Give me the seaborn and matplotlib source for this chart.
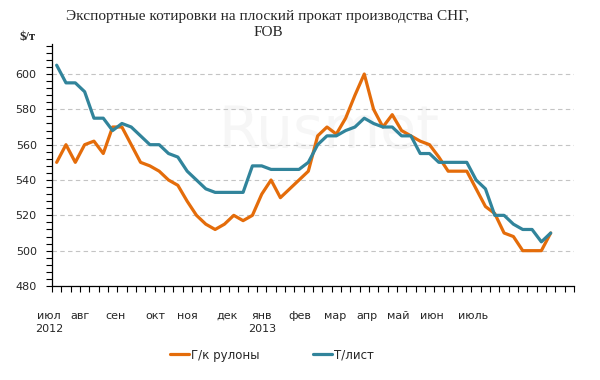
import matplotlib
matplotlib.use("Agg")
import matplotlib.pyplot as plt
from matplotlib.ticker import MultipleLocator, FixedLocator
from matplotlib.lines import Line2D
import pandas as pd
import seaborn as sns

# данные (недельные котировки, $/т)
title = "Экспортные котировки на плоский прокат производства СНГ,\nFOB"
unit_label = "$/т"
series_names = ["Г/к рулоны", "Т/лист"]

hot_rolled = [550, 560, 550, 560, 562, 555, 570, 570, 560, 550,
              548, 545, 540, 537, 528, 520, 515, 512, 515, 520,
              517, 520, 532, 540, 530, 535, 540, 545, 565, 570,
              566, 575, 588, 600, 580, 570, 577, 568, 565, 562,
              560, 553, 545, 545, 545, 535, 525, 521, 510, 508,
              500, 500, 500, 510]
sheet = [605, 595, 595, 590, 575, 575, 568, 572, 570, 565,
         560, 560, 555, 553, 545, 540, 535, 533, 533, 533,
         533, 548, 548, 546, 546, 546, 546, 550, 560, 565,
         565, 568, 570, 575, 572, 570, 570, 565, 565, 555,
         555, 550, 550, 550, 550, 540, 535, 520, 520, 515,
         512, 512, 505, 510]

month_labels = ["июл\n2012", "авг", "сен", "окт", "ноя", "дек", "янв\n2013",
                "фев", "мар", "апр", "май", "июн", "июль"]
month_pos = [-0.83, 2.5, 6.26, 10.55, 14.0, 18.3, 22.0,
             26.1, 29.9, 33.3, 36.6, 40.3, 44.7]
n_categories = 56

colors = ["#E46C0A", "#31849B"]

df = pd.DataFrame({
    "week": list(range(len(hot_rolled))) * 2,
    "price": hot_rolled + sheet,
    "series": [series_names[0]] * len(hot_rolled) + [series_names[1]] * len(sheet),
})

sns.set_style("white")
plt.rcParams['font.family'] = ['DejaVu Sans']

fig = plt.figure(figsize=(6, 3.8), dpi=100)
ax = fig.add_axes([52 / 600, 1 - 286 / 380, 522 / 600, 242 / 380])

# водяной знак
ax.text(0.53, 0.64, "Rusmet", transform=ax.transAxes, ha="center", va="center",
        fontsize=42, color="#f6f6f6", zorder=0)

sns.lineplot(data=df, x="week", y="price", hue="series", palette=colors,
             linewidth=2.3, ax=ax, legend=False, zorder=3)

ax.set_xlim(-0.5, n_categories - 0.5)
ax.set_ylim(480, 617)
ax.set_xlabel("")
ax.set_ylabel("")

ax.yaxis.set_major_locator(MultipleLocator(20))
ax.yaxis.set_minor_locator(MultipleLocator(4))
ax.grid(axis="y", which="major", color="#c4c4c4", linestyle=(0, (4, 3)), linewidth=0.8)
ax.set_axisbelow(True)

for side in ["top", "right"]:
    ax.spines[side].set_visible(False)
for side in ["left", "bottom"]:
    ax.spines[side].set_color("black")
    ax.spines[side].set_linewidth(0.9)

ax.tick_params(axis="y", which="both", direction="out", length=4, width=0.8,
               color="black", labelsize=8, pad=7, left=True)
ax.tick_params(axis="x", which="major", length=0, labelbottom=False)
ax.xaxis.set_minor_locator(FixedLocator([i - 0.5 for i in range(n_categories + 1)]))
ax.tick_params(axis="x", which="minor", direction="out", length=4, width=0.8,
               color="black", bottom=True)
ax.set_xticks([])

for lab, pos in zip(month_labels, month_pos):
    ax.annotate(lab, xy=(pos, 0), xycoords=("data", "axes fraction"),
                xytext=(0, -18), textcoords="offset points",
                ha="center", va="top", fontsize=8, linespacing=1.4,
                annotation_clip=False)

fig.text(268 / 600, 1 - 10 / 380, title, ha="center", va="top",
         fontsize=11, family="Liberation Serif", linespacing=1.3)
fig.text(19 / 600, 1 - 37 / 380, unit_label, ha="left", va="center",
         fontsize=9, family="Liberation Serif", fontweight="bold")

handles = [Line2D([], [], color=c, linewidth=2.3) for c in colors]
fig.legend(handles, series_names, loc="center", bbox_to_anchor=(0.453, 1 - 355 / 380),
           ncol=2, frameon=False, fontsize=8.5, handlelength=1.6, handletextpad=0.2,
           columnspacing=4.5)

fig.savefig("out.png", dpi=100)
